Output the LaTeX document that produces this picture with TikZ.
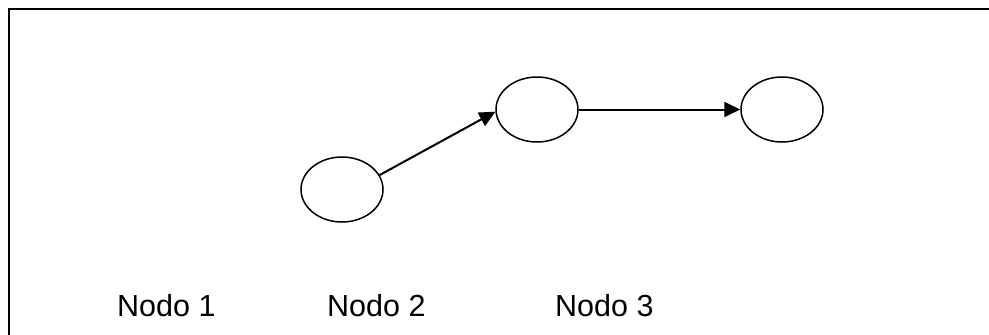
\documentclass[tikz,border=0pt]{standalone}
\usepackage{fontspec}
\setmainfont{Liberation Sans}
\usetikzlibrary{shapes.geometric,arrows.meta}
\begin{document}
\begin{tikzpicture}[x=1pt,y=-1pt,
  nodo/.style={draw,ellipse,line width=1.5pt,minimum width=82pt,minimum height=65pt,inner sep=0pt},
  conn/.style={line width=2pt,-{Triangle[length=16pt,width=15pt]}},
  lab/.style={anchor=base west,inner sep=0pt,font=\fontsize{30.5}{36}\selectfont}]
\useasboundingbox (0,0) rectangle (989,335);
\draw[line width=2pt,line join=miter] (9,336) -- (9,9) -- (990,9);
\node[nodo] (n1) at (342,189.5) {};
\node[nodo] (n2) at (537,109.5) {};
\node[nodo] (n3) at (782,109.5) {};
\draw[conn] (n1.21) -- (n2.183);
\draw[conn] (n2.east) -- (n3.west);
\node[lab] (l1) at (117,316) {Nodo 1};
\node[lab] (l2) at (327,316) {Nodo 2};
\node[lab] (l3) at (555,316) {Nodo 3};
\end{tikzpicture}
\end{document}
